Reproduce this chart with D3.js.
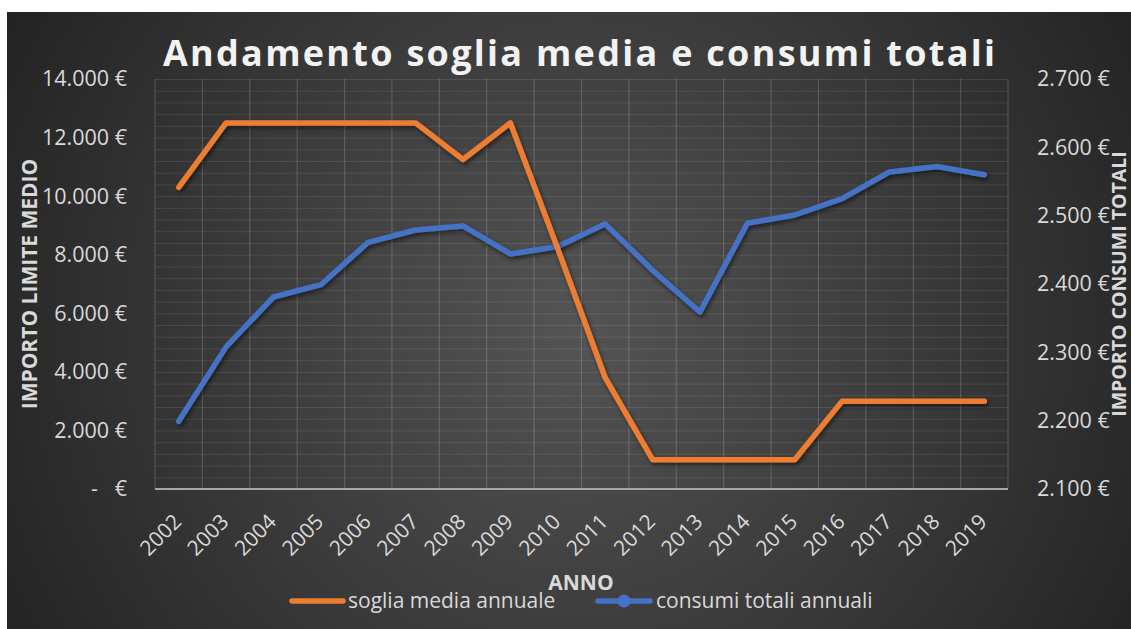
<!DOCTYPE html>
<html>
<head>
<meta charset="utf-8">
<script src="https://cdn.jsdelivr.net/npm/d3@7"></script>
<style>
    body { margin: 0; background: #ffffff; }
    svg { display: block; }
    text { font-family: "Open Sans", "DejaVu Sans", sans-serif; }
</style>
</head>
<body>
<script>
(function () {

    var anni = ["2002", "2003", "2004", "2005", "2006", "2007", "2008", "2009", "2010",
        "2011", "2012", "2013", "2014", "2015", "2016", "2017", "2018", "2019"];

    var sogliaMedia = [10300, 12500, 12500, 12500, 12500, 12500, 11250, 12500, 8200,
        3800, 1000, 1000, 1000, 1000, 3000, 3000, 3000, 3000];

    var consumiTotali = [2199, 2308, 2381, 2399, 2461, 2479, 2485, 2444, 2455,
        2488, 2420, 2359, 2489, 2501, 2525, 2564, 2572, 2560];

    var ticksSinistra = [0, 2000, 4000, 6000, 8000, 10000, 12000, 14000];
    var ticksDestra = [2100, 2200, 2300, 2400, 2500, 2600, 2700];

    var titolo = "Andamento soglia media e consumi totali";
    var nomiSerie = ["soglia media annuale", "consumi totali annuali"];

    var width = 1131,
        height = 629,
        left = 155,
        right = 1008,
        top = 79,
        bottom = 489;

    var arancio = "#ed7d31",
        blu = "#4472c4";

    var it = d3.formatLocale({ decimal: ",", thousands: ".", grouping: [3], currency: ["", " €"] });
    var fmt = it.format(",.0f");

    var svg = d3.select("body")
        .append("svg")
        .attr("width", width)
        .attr("height", height);

    var defs = svg.append("defs");

    var grad = defs.append("radialGradient")
        .attr("id", "sfondo")
        .attr("gradientUnits", "userSpaceOnUse")
        .attr("cx", 575).attr("cy", 330).attr("r", 640);
    grad.append("stop").attr("offset", "0").attr("stop-color", "#545454");
    grad.append("stop").attr("offset", "1").attr("stop-color", "#242424");

    var ombra = defs.append("filter")
        .attr("id", "ombra")
        .attr("x", "-10%").attr("y", "-10%")
        .attr("width", "120%").attr("height", "120%");
    ombra.append("feDropShadow")
        .attr("dx", 1.5).attr("dy", 2.5)
        .attr("stdDeviation", 2)
        .attr("flood-color", "#000")
        .attr("flood-opacity", 0.55);

    svg.append("rect")
        .attr("x", 7).attr("y", 12)
        .attr("width", width - 7).attr("height", height - 12)
        .attr("fill", "url(#sfondo)");

    var x = d3.scaleBand()
        .domain(anni)
        .range([left, right]);

    var ySx = d3.scaleLinear()
        .domain([0, 14000])
        .range([bottom, top]);

    var yDx = d3.scaleLinear()
        .domain([2100, 2700])
        .range([bottom, top]);

    // griglia orizzontale (minori ogni 400)
    svg.append("g")
        .selectAll("line")
        .data(d3.range(400, 14001, 400))
        .enter()
        .append("line")
        .attr("x1", left).attr("x2", right)
        .attr("y1", function (d) { return ySx(d) + 0.5; })
        .attr("y2", function (d) { return ySx(d) + 0.5; })
        .attr("stroke", "#ffffff")
        .attr("stroke-opacity", 0.09)
        .attr("stroke-width", 1);

    // griglia verticale
    var bordi = anni.map(function (d) { return x(d); }).concat([x.range()[1]]);
    svg.append("g")
        .selectAll("line")
        .data(bordi)
        .enter()
        .append("line")
        .attr("x1", function (d) { return d; })
        .attr("x2", function (d) { return d; })
        .attr("y1", top).attr("y2", bottom)
        .attr("stroke", "#ffffff")
        .attr("stroke-opacity", 0.16)
        .attr("stroke-width", 1.2);

    svg.append("line")
        .attr("x1", left).attr("x2", right)
        .attr("y1", bottom).attr("y2", bottom)
        .attr("stroke", "#a6a6a6")
        .attr("stroke-width", 2);

    // assi
    var asseSx = svg.append("g")
        .attr("transform", "translate(127,0)")
        .call(d3.axisLeft(ySx)
            .tickValues(ticksSinistra)
            .tickSize(0)
            .tickPadding(0)
            .tickFormat(function (d) { return d === 0 ? "-   €" : fmt(d) + " €"; }));

    var asseDx = svg.append("g")
        .attr("transform", "translate(1037,0)")
        .call(d3.axisRight(yDx)
            .tickValues(ticksDestra)
            .tickSize(0)
            .tickPadding(0)
            .tickFormat(function (d) { return fmt(d) + " €"; }));

    [asseSx, asseDx].forEach(function (a) {
        a.select(".domain").remove();
        a.selectAll("text")
            .attr("fill", "#d9d9d9")
            .style("font-size", "21.5px")
            .style("white-space", "pre")
            .attr("font-family", null);
    });

    var asseX = svg.append("g")
        .attr("transform", "translate(0," + bottom + ")")
        .call(d3.axisBottom(x).tickSize(0).tickPadding(0));
    asseX.select(".domain").remove();
    asseX.selectAll("text")
        .attr("fill", "#d9d9d9")
        .attr("font-family", null)
        .style("font-size", "21px")
        .attr("text-anchor", "end")
        .attr("dy", 0)
        .attr("y", 0)
        .attr("transform", "translate(4,34) rotate(-45)");

    // linee
    var lineaSx = d3.line()
        .x(function (d, i) { return x(anni[i]) + x.bandwidth() / 2; })
        .y(function (d) { return ySx(d); });

    var lineaDx = d3.line()
        .x(function (d, i) { return x(anni[i]) + x.bandwidth() / 2; })
        .y(function (d) { return yDx(d); });

    svg.append("path")
        .datum(consumiTotali)
        .attr("d", lineaDx)
        .attr("fill", "none")
        .attr("stroke", blu)
        .attr("stroke-width", 5.5)
        .attr("stroke-linejoin", "round")
        .attr("stroke-linecap", "round")
        .attr("filter", "url(#ombra)");

    svg.append("path")
        .datum(sogliaMedia)
        .attr("d", lineaSx)
        .attr("fill", "none")
        .attr("stroke", arancio)
        .attr("stroke-width", 5.5)
        .attr("stroke-linejoin", "round")
        .attr("stroke-linecap", "round")
        .attr("filter", "url(#ombra)");

    // titoli
    svg.append("text")
        .attr("x", 579)
        .attr("y", 66)
        .attr("text-anchor", "middle")
        .attr("fill", "#f2f2f2")
        .attr("font-weight", "bold")
        .attr("textLength", 832)
        .attr("lengthAdjust", "spacing")
        .style("font-size", "36px")
        .text(titolo);

    svg.append("text")
        .attr("transform", "translate(37,284) rotate(-90)")
        .attr("text-anchor", "middle")
        .attr("fill", "#d9d9d9")
        .attr("font-weight", "bold")
        .style("font-size", "21px")
        .text("IMPORTO LIMITE MEDIO");

    svg.append("text")
        .attr("transform", "translate(1126,284) rotate(-90)")
        .attr("text-anchor", "middle")
        .attr("fill", "#d9d9d9")
        .attr("font-weight", "bold")
        .style("font-size", "19.5px")
        .text("IMPORTO CONSUMI TOTALI");

    svg.append("text")
        .attr("x", 581)
        .attr("y", 590)
        .attr("text-anchor", "middle")
        .attr("fill", "#d9d9d9")
        .attr("font-weight", "bold")
        .style("font-size", "21px")
        .text("ANNO");

    // legenda
    var legenda = svg.append("g");

    legenda.append("line")
        .attr("x1", 292).attr("x2", 343)
        .attr("y1", 601).attr("y2", 601)
        .attr("stroke", arancio)
        .attr("stroke-width", 5.5)
        .attr("stroke-linecap", "round");

    legenda.append("text")
        .attr("x", 348).attr("y", 608)
        .attr("fill", "#d9d9d9")
        .style("font-size", "21px")
        .text(nomiSerie[0]);

    legenda.append("line")
        .attr("x1", 598).attr("x2", 650)
        .attr("y1", 601).attr("y2", 601)
        .attr("stroke", blu)
        .attr("stroke-width", 5.5)
        .attr("stroke-linecap", "round");

    legenda.append("circle")
        .attr("cx", 624).attr("cy", 601)
        .attr("r", 6.5)
        .attr("fill", blu);

    legenda.append("text")
        .attr("x", 656).attr("y", 608)
        .attr("fill", "#d9d9d9")
        .style("font-size", "21px")
        .text(nomiSerie[1]);

})();
</script>
</body>
</html>
